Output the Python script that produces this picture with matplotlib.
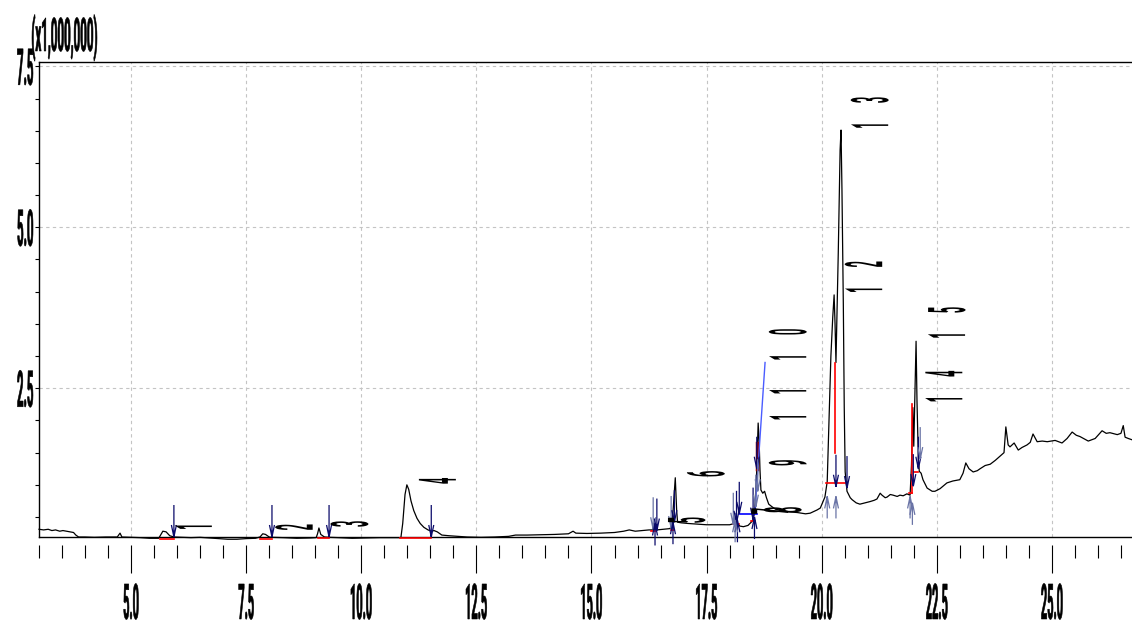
import numpy as np
import matplotlib
matplotlib.use("Agg")
import matplotlib.pyplot as plt
from matplotlib.textpath import TextPath
from matplotlib.font_manager import FontProperties
from matplotlib.patches import PathPatch
from matplotlib.path import Path
from matplotlib.transforms import (Affine2D, ScaledTranslation, IdentityTransform,
                                   blended_transform_factory)

# chromatogram trace: retention time (min) vs intensity (x1,000,000)
time_min = [3.00, 3.10, 3.20, 3.28, 3.36, 3.45, 3.52, 3.60, 3.68, 3.75, 3.80, 3.86,
            4.00, 4.20, 4.45, 4.70, 4.76, 4.80, 5.00, 5.20, 5.40, 5.60, 5.64, 5.69,
            5.76, 5.84, 5.93, 6.10, 6.30, 6.50, 6.70, 6.90, 7.10, 7.30, 7.50, 7.70,
            7.80, 7.86, 7.92, 8.00, 8.06, 8.30, 8.60, 8.90, 9.02, 9.05, 9.08, 9.12,
            9.20, 9.30, 9.50, 9.80, 10.10, 10.40, 10.70, 10.86, 10.90, 10.95, 10.99,
            11.03, 11.08, 11.14, 11.21, 11.28, 11.36, 11.45, 11.52, 11.58, 11.65,
            11.75, 11.90, 12.10, 12.30, 12.60, 12.90, 13.20, 13.35, 13.60, 13.90,
            14.20, 14.50, 14.60, 14.66, 14.90, 15.20, 15.50, 15.70, 15.82, 15.95,
            16.10, 16.25, 16.33, 16.38, 16.42, 16.55, 16.70, 16.75, 16.79, 16.82,
            16.85, 16.87, 16.95, 17.10, 17.30, 17.50, 17.80, 18.00, 18.10, 18.16,
            18.22, 18.30, 18.40, 18.47, 18.51, 18.55, 18.59, 18.62, 18.64, 18.66,
            18.68, 18.72, 18.76, 18.80, 18.85, 18.92, 19.00, 19.10, 19.30, 19.47,
            19.65, 19.75, 19.90, 19.97, 20.07, 20.12, 20.16, 20.20, 20.24, 20.27,
            20.29, 20.31, 20.36, 20.40, 20.42, 20.44, 20.47, 20.49, 20.51, 20.55,
            20.62, 20.66, 20.75, 20.83, 20.94, 21.05, 21.14, 21.20, 21.27, 21.31,
            21.38, 21.42, 21.49, 21.55, 21.64, 21.70, 21.77, 21.85, 21.92, 21.95,
            21.98, 22.00, 22.03, 22.05, 22.07, 22.10, 22.12, 22.16, 22.20, 22.29,
            22.40, 22.46, 22.57, 22.72, 22.85, 23.00, 23.07, 23.13, 23.20, 23.29,
            23.38, 23.44, 23.55, 23.66, 23.77, 23.88, 23.96, 24.00, 24.05, 24.09,
            24.18, 24.27, 24.35, 24.46, 24.53, 24.59, 24.68, 24.79, 24.90, 25.07,
            25.22, 25.33, 25.44, 25.53, 25.61, 25.79, 25.94, 26.09, 26.18, 26.26,
            26.42, 26.50, 26.55, 26.59, 26.66, 26.74]
signal = [0.31, 0.30, 0.31, 0.29, 0.30, 0.28, 0.29, 0.28, 0.27, 0.26, 0.22, 0.19,
          0.19, 0.185, 0.19, 0.19, 0.25, 0.19, 0.185, 0.18, 0.17, 0.17, 0.22, 0.28,
          0.27, 0.21, 0.19, 0.185, 0.18, 0.185, 0.175, 0.165, 0.155, 0.155, 0.165, 0.17,
          0.19, 0.24, 0.23, 0.19, 0.185, 0.18, 0.17, 0.175, 0.18, 0.24, 0.33, 0.23,
          0.19, 0.185, 0.18, 0.17, 0.175, 0.18, 0.18, 0.18, 0.40, 0.85, 1.00,
          0.93, 0.75, 0.60, 0.48, 0.40, 0.34, 0.30, 0.28, 0.29, 0.27,
          0.22, 0.21, 0.20, 0.19, 0.185, 0.19, 0.20, 0.22, 0.22, 0.225,
          0.23, 0.24, 0.28, 0.25, 0.245, 0.25, 0.26, 0.28, 0.30, 0.28,
          0.29, 0.30, 0.30, 0.33, 0.30, 0.31, 0.32, 0.36, 0.80, 1.11,
          0.60, 0.42, 0.41, 0.40, 0.39, 0.38, 0.38, 0.38, 0.40, 0.41,
          0.36, 0.35, 0.37, 0.42, 0.46, 0.66, 1.23, 1.96, 1.70, 1.23,
          0.92, 0.87, 0.90, 0.80, 0.70, 0.66, 0.62, 0.61, 0.58, 0.57,
          0.55, 0.56, 0.61, 0.64, 0.81, 1.05, 2.00, 3.00, 3.60, 3.95,
          3.50, 2.90, 4.60, 6.20, 6.51, 5.60, 3.80, 2.20, 1.20, 0.90,
          0.80, 0.77, 0.72, 0.70, 0.72, 0.74, 0.76, 0.78, 0.87, 0.84,
          0.80, 0.81, 0.85, 0.84, 0.82, 0.84, 0.83, 0.86, 0.84, 1.30,
          2.20, 1.60, 2.60, 3.23, 2.30, 1.40, 1.21, 1.18, 1.08, 0.95,
          0.90, 0.90, 0.94, 1.03, 1.06, 1.08, 1.18, 1.34, 1.25, 1.20,
          1.22, 1.25, 1.30, 1.32, 1.38, 1.45, 1.50, 1.90, 1.62, 1.59,
          1.65, 1.54, 1.58, 1.62, 1.66, 1.79, 1.67, 1.68, 1.67, 1.69,
          1.65, 1.72, 1.82, 1.77, 1.75, 1.68, 1.72, 1.84, 1.80, 1.81,
          1.78, 1.80, 1.92, 1.74, 1.72, 1.70]

# peak numbers and where their labels start
peak_no = ["1", "2", "3", "4", "5", "6", "7", "8", "9", "10", "11", "12", "13", "14", "15"]
peak_t = [5.69, 7.88, 9.08, 10.99, 16.40, 16.82, 18.21, 18.49, 18.60, 18.60, 18.60,
          20.25, 20.38, 21.99, 22.05]
peak_v = [0.28, 0.28, 0.33, 1.00, 0.39, 1.11, 0.53, 0.55, 1.28, 2.91, 1.98,
          3.96, 6.51, 2.26, 3.25]

# peak start / end markers
mark_t = [5.93, 8.06, 9.30, 11.52, 16.34, 16.42, 16.38, 16.73, 16.80, 16.77,
          18.08, 18.15, 18.21, 18.17, 18.12, 18.51, 18.57, 18.54, 18.59, 18.61,
          20.12, 20.31, 20.31, 20.55, 21.92, 21.99, 21.97, 22.10, 22.14]
mark_v = [0.19, 0.19, 0.19, 0.19, 0.31, 0.29, 0.40, 0.33, 0.42, 0.42,
          0.38, 0.41, 0.55, 0.45, 0.45, 0.46, 0.66, 0.50, 1.25, 0.90,
          0.82, 0.97, 0.82, 0.95, 0.82, 0.98, 0.72, 1.25, 1.40]
mark_dir = ["v", "v", "v", "v", "v", "v", "^", "v", "v", "^",
            "v", "v", "v", "^", "^", "v", "v", "^", "v", "v",
            "^", "v", "^", "v", "^", "v", "^", "v", "v"]
mark_light = [0, 0, 0, 0, 1, 0, 0, 1, 0, 0,
              1, 0, 0, 0, 1, 0, 1, 0, 0, 1,
              1, 0, 1, 0, 1, 0, 1, 0, 1]

# integration baselines and drop lines
red_t0 = [5.63, 7.80, 9.05, 10.85, 16.30, 16.72, 18.08, 18.46, 20.10, 20.30, 21.90, 21.97, 22.00]
red_v0 = [0.16, 0.155, 0.175, 0.175, 0.28, 0.30, 0.39, 0.44, 1.03, 2.90, 0.87, 2.26, 1.20]
red_t1 = [5.93, 8.06, 9.30, 11.52, 16.40, 16.80, 18.20, 18.55, 20.55, 20.30, 21.97, 21.97, 22.10]
red_v1 = [0.16, 0.155, 0.175, 0.175, 0.28, 0.30, 0.39, 0.44, 1.03, 1.50, 0.87, 0.87, 1.20]

x_major = [5.0, 7.5, 10.0, 12.5, 15.0, 17.5, 20.0, 22.5, 25.0]
x_labels = ["5.0", "7.5", "10.0", "12.5", "15.0", "17.5", "20.0", "22.5", "25.0"]
y_major = [2.5, 5.0, 7.5]
y_labels = ["2.5", "5.0", "7.5"]

W, H = 1132, 623
fig = plt.figure(figsize=(W / 100, H / 100), dpi=100)
ax = fig.add_axes([39 / W, (H - 537) / H, 1 - 39 / W, (537 - 62) / H])
ax.set_xlim(3.0, 26.74)
ax.set_ylim(0.19, 7.567)

BOLD = FontProperties(family="Roboto", weight="bold")
DIGIT_H = TextPath((0, 0), "0", size=1, prop=BOLD).get_extents().height


def squeeze_text(s, x, y, trans, height, xscale, ha="center", va="center",
                 rot=0, dx=0, dy=0, lw=0.4):
    """Tall narrow bold text drawn as a path, sizes in pixels."""
    tp = TextPath((0, 0), s, size=1, prop=BOLD)
    ext = tp.get_extents()
    if ha == "center":
        sx = -(ext.x0 + ext.x1) / 2
    elif ha == "right":
        sx = -ext.x1
    else:
        sx = -ext.x0
    sy = -DIGIT_H / 2 if va == "center" else 0
    tr = (Affine2D().translate(sx, sy).scale(xscale, height / DIGIT_H)
          .rotate_deg(rot).translate(dx, dy) + ScaledTranslation(x, y, trans))
    fig.add_artist(PathPatch(tp, transform=tr, fc="black",
                             ec="black" if lw else "none", lw=lw))


def arrow_mark(t, v, direction, color):
    if direction == "v":
        verts = [(0, 32), (0, 0), (-2.5, 12), (0, 0), (2.5, 12)]
    else:
        verts = [(0, -22), (0, 0), (-2.5, -12), (0, 0), (2.5, -12)]
    codes = [Path.MOVETO, Path.LINETO, Path.MOVETO, Path.LINETO, Path.LINETO]
    tr = ScaledTranslation(t, v, ax.transData)
    fig.add_artist(PathPatch(Path(verts, codes), transform=tr, fill=False,
                             ec=color, lw=0.9))


# frame
for side in ["right", "left", "top", "bottom"]:
    ax.spines[side].set_linewidth(1.0)
ax.spines["right"].set_visible(False)
ax.spines["bottom"].set_position(("outward", 6))
ax.spines["bottom"].set_visible(False)
ax.plot([0, 1], [0, 0], transform=ax.transAxes, color="black", lw=1.0, clip_on=False)

ax.set_xticks(x_major)
ax.set_xticks(np.arange(3.0, 26.75, 0.5), minor=True)
ax.set_yticks(y_major)
ax.set_yticks(np.arange(0.5, 7.6, 0.5), minor=True)
ax.tick_params(axis="x", which="major", direction="out", length=20, width=0.8,
               labelbottom=False)
ax.tick_params(axis="x", which="minor", direction="out", length=9.5, width=0.8)
ax.tick_params(axis="y", which="both", direction="out", length=3, width=0.8,
               labelleft=False)
ax.grid(True, which="major", color="#c4c4c4", lw=0.8, ls=(0, (3, 3)))

# trace, baselines, markers
ax.plot(time_min, signal, color="black", lw=0.9, clip_on=False, zorder=3)
for t0, v0, t1, v1 in zip(red_t0, red_v0, red_t1, red_v1):
    ax.plot([t0, t1], [v0, v1], color="#ff0000", lw=1.2, clip_on=False, zorder=4)
ax.plot([18.60, 18.60], [1.25, 1.65], color="#8b0000", lw=2.5, zorder=4)
ax.plot([18.21, 18.60], [0.55, 0.55], color="#0000ff", lw=1.2, zorder=4)
ax.plot([18.55, 18.77], [0.56, 2.90], color="#4a5cff", lw=1.0, zorder=4)

for t, v, d, light in zip(mark_t, mark_v, mark_dir, mark_light):
    arrow_mark(t, v, d, "#6a74a6" if light else "#0a0a6a")

# peak numbers, drawn rotated with wide character spacing
for lab, t, v in zip(peak_no, peak_t, peak_v):
    for i, ch in enumerate(lab):
        squeeze_text(ch, t, v, ax.transData, 38, 11, rot=90, dx=30,
                     dy=4 + 26 * i, lw=0)

# axis labels
xt = blended_transform_factory(ax.transData, IdentityTransform())
for pos, lab in zip(x_major, x_labels):
    squeeze_text(lab, pos, H - 601, xt, 36, 11)
yt = blended_transform_factory(IdentityTransform(), ax.transData)
for pos, lab in zip(y_major, y_labels):
    squeeze_text(lab, 33, pos, yt, 37, 11.5, ha="right")
squeeze_text("(x1,000,000)", 32, H - 51, IdentityTransform(), 34, 11.6,
             ha="left", va="baseline")

fig.savefig("out.png", dpi=100)
